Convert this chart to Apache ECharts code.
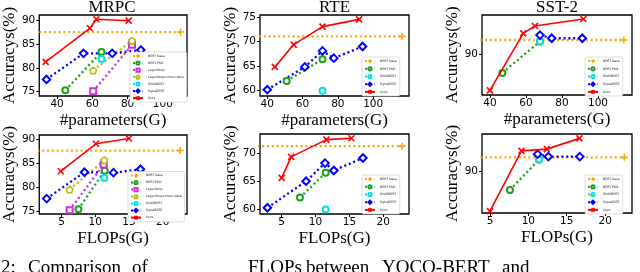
<!DOCTYPE html>
<html>
<head>
<meta charset="utf-8">
<script src="https://cdn.jsdelivr.net/npm/echarts@6/dist/echarts.min.js"></script>
<style>
html,body{margin:0;padding:0;background:#fff;}
#c{width:640px;height:272px;}
</style>
</head>
<body>
<div id="c"></div>
<script>
// ---------- data ----------
const seriesNames = ['BERT base','BERT-PKD','LayerDrop','LayerDrop+more data','DistilBERT','DynaBERT','Ours'];
const datasetTitles = ['MRPC','RTE','SST-2'];
const xNames = ['#parameters(G)','FLOPs(G)'];
const yName = 'Accuracys(%)';

const paramTicks = [40,60,80,100];
const flopTicks = [5,10,15,20];
const mrpcYTicks = [75,80,85,90];
const rteParamYTicks = [60,65,70,75];
const rteFlopYTicks = [60,65,70];
const sstYTicks = [90];

// MRPC, #parameters
const mrpcParamBase   = [[0,87.6],[110,87.6]];
const mrpcParamPkd    = [[44.7,75.3],[65.2,83.4]];
const mrpcParamLd     = [[60.5,75.1],[82.5,84.9]];
const mrpcParamLdPlus = [[60.5,79.5],[82.5,85.8]];
const mrpcParamDistil = [[65.2,81.9]];
const mrpcParamDyna   = [[34,77.6],[55,83.1],[71.3,83.1],[87.5,83.8]];
const mrpcParamOurs   = [[33.5,81.3],[58.6,88.4],[62.3,90.3],[80.6,90.0]];
// MRPC, FLOPs
const mrpcFlopBase   = [[0,87.6],[22.6,87.6]];
const mrpcFlopPkd    = [[7.5,75.4],[11.4,83.4]];
const mrpcFlopLd     = [[6.2,75.2],[11.25,84.7]];
const mrpcFlopLdPlus = [[6.2,79.5],[11.35,85.6]];
const mrpcFlopDistil = [[11.35,81.9]];
const mrpcFlopDyna   = [[2.8,77.6],[8.4,83.1],[12.7,83.0],[16.7,83.7]];
const mrpcFlopOurs   = [[4.9,83.3],[10.1,89.0],[15.0,90.1]];
// RTE, #parameters
const rteParamBase   = [[0,71.1],[116.4,71.1]];
const rteParamPkd    = [[51,61.9],[71.3,66.4]];
const rteParamDistil = [[71.3,59.9]];
const rteParamDyna   = [[40,60.1],[61.3,64.8],[71.3,68.1],[77.7,66.6],[94,69.0]];
const rteParamOurs   = [[44.3,64.8],[55,69.4],[71.3,73.1],[92,74.6]];
// RTE, FLOPs
const rteFlopBase   = [[0,71.2],[22.8,71.2]];
const rteFlopPkd    = [[7.7,62.1],[11.5,66.5]];
const rteFlopDistil = [[11.5,60.0]];
const rteFlopDyna   = [[2.9,60.3],[8.6,65.0],[11.4,68.2],[12.7,66.9],[17.0,69.1]];
const rteFlopOurs   = [[5,65.6],[6.4,69.3],[11.6,72.35],[15.3,72.6]];
// SST-2, #parameters
const sstParamBase   = [[0,92.0],[114.4,92.0]];
const sstParamPkd    = [[46.9,87.3],[67.8,91.8]];
const sstParamDistil = [[67.8,91.8]];
const sstParamDyna   = [[67.8,92.7],[74.3,92.25],[91.3,92.25]];
const sstParamOurs   = [[40,84.8],[58.5,92.95],[65,94.0],[91.9,95.0]];
// SST-2, FLOPs
const sstFlopBase   = [[0,92.0],[22.5,92.0]];
const sstFlopPkd    = [[7.6,87.45],[11.4,91.7]];
const sstFlopDistil = [[11.4,91.7]];
const sstFlopDyna   = [[11.2,92.45],[12.6,92.1],[16.7,92.1]];
const sstFlopOurs   = [[5,84.5],[9.1,92.9],[12.4,93.15],[16.65,94.65]];

const captionWords = ['2:', 'Comparison', 'of', 'FLOPs', 'between', 'YOCO-BERT', 'and'];

// ---------- styles ----------
const S = {
  'BERT base': {color:'#ffa500', symbol:'path://M5,0L5,10M0,5L10,5', size:7, dotted:true, fill:'#ffa500'},
  'BERT-PKD': {color:'#1e9e1e', symbol:'emptyCircle', size:6, dotted:true},
  'LayerDrop': {color:'#d030d0', symbol:'emptyRect', size:6, dotted:true},
  'LayerDrop+more data': {color:'#bcbc10', symbol:'path://M5,0L10,3.8L8.1,10L1.9,10L0,3.8Z', size:6.5, dotted:true, fill:'#fff'},
  'DistilBERT': {color:'#00e0e0', symbol:'emptyCircle', size:6, dotted:true},
  'DynaBERT': {color:'#0000ff', symbol:'emptyDiamond', size:7.5, dotted:true},
  'Ours': {color:'#ff0000', symbol:'path://M0,0L10,10M10,0L0,10', size:6, dotted:false, fill:'#ff0000'}
};

const panels = [
  {grid:{left:37,top:15,width:150,height:81}, x:[29.9,113.7], y:[74.1,91.2], xt:paramTicks, yt:mrpcYTicks, xn:0,
   legend:{left:130,top:52}, rowGap:1.8,
   data:{'BERT base':mrpcParamBase,'BERT-PKD':mrpcParamPkd,'LayerDrop':mrpcParamLd,'LayerDrop+more data':mrpcParamLdPlus,'DistilBERT':mrpcParamDistil,'DynaBERT':mrpcParamDyna,'Ours':mrpcParamOurs}},
  {grid:{left:260,top:15,width:149,height:81}, x:[35.9,120.3], y:[58.8,75.5], xt:paramTicks, yt:rteParamYTicks, xn:0,
   legend:{left:362,top:57}, rowGap:2.5,
   data:{'BERT base':rteParamBase,'BERT-PKD':rteParamPkd,'DistilBERT':rteParamDistil,'DynaBERT':rteParamDyna,'Ours':rteParamOurs}},
  {grid:{left:482,top:15,width:150,height:80}, x:[35.6,118.9], y:[84.14,95.57], xt:paramTicks, yt:sstYTicks, xn:0,
   legend:{left:585,top:57}, rowGap:2.5,
   data:{'BERT base':sstParamBase,'BERT-PKD':sstParamPkd,'DistilBERT':sstParamDistil,'DynaBERT':sstParamDyna,'Ours':sstParamOurs}},
  {grid:{left:37,top:135,width:150,height:79}, x:[1.7,23.6], y:[74.4,90.83], xt:flopTicks, yt:mrpcYTicks, xn:1,
   legend:{left:128,top:171.5}, rowGap:1.8,
   data:{'BERT base':mrpcFlopBase,'BERT-PKD':mrpcFlopPkd,'LayerDrop':mrpcFlopLd,'LayerDrop+more data':mrpcFlopLdPlus,'DistilBERT':mrpcFlopDistil,'DynaBERT':mrpcFlopDyna,'Ours':mrpcFlopOurs}},
  {grid:{left:260,top:134,width:149,height:80}, x:[1.8,23.8], y:[59.2,73.35], xt:flopTicks, yt:rteFlopYTicks, xn:1,
   legend:{left:362,top:175}, rowGap:2.5,
   data:{'BERT base':rteFlopBase,'BERT-PKD':rteFlopPkd,'DistilBERT':rteFlopDistil,'DynaBERT':rteFlopDyna,'Ours':rteFlopOurs}},
  {grid:{left:482,top:134,width:150,height:79}, x:[3.96,23.5], y:[84.24,95.26], xt:flopTicks, yt:sstYTicks, xn:1,
   legend:{left:585,top:175}, rowGap:2.5,
   data:{'BERT base':sstFlopBase,'BERT-PKD':sstFlopPkd,'DistilBERT':sstFlopDistil,'DynaBERT':sstFlopDyna,'Ours':sstFlopOurs}}
];

const serif = 'Liberation Serif';
const grids = [], xAxes = [], yAxes = [], series = [], legends = [];

panels.forEach((p, i) => {
  grids.push(Object.assign({show:true, borderColor:'#000', borderWidth:1.3, backgroundColor:'transparent', containLabel:false}, p.grid));
  xAxes.push({
    type:'value', gridIndex:i, min:p.x[0], max:p.x[1],
    name:xNames[p.xn], nameLocation:'middle', nameGap:16,
    nameTextStyle:{fontFamily:serif, fontSize:17, color:'#000'},
    axisLine:{show:false}, splitLine:{show:false},
    axisTick:{show:true, inside:false, length:3, customValues:p.xt, lineStyle:{color:'#000', width:1}},
    axisLabel:{customValues:p.xt, fontFamily:'DejaVu Sans', fontSize:10.5, color:'#000', margin:3}
  });
  yAxes.push({
    type:'value', gridIndex:i, min:p.y[0], max:p.y[1],
    name:yName, nameLocation:'middle', nameGap:21, nameRotate:90,
    nameTextStyle:{fontFamily:serif, fontSize:17, color:'#000'},
    axisLine:{show:false}, splitLine:{show:false},
    axisTick:{show:true, inside:false, length:3, customValues:p.yt, lineStyle:{color:'#000', width:1}},
    axisLabel:{customValues:p.yt, fontFamily:'DejaVu Sans', fontSize:10.5, color:'#000', margin:4}
  });
  const names = seriesNames.filter(n => p.data[n]);
  names.forEach(n => {
    const s = S[n];
    series.push({
      type:'line', name:n, xAxisIndex:i, yAxisIndex:i, data:p.data[n],
      color:s.color, clip:true,
      symbol:s.symbol, symbolSize:s.size, showSymbol:true,
      itemStyle:{color: s.fill || s.color, borderColor:s.color, borderWidth:1.6},
      lineStyle:{color:s.color, width:s.dotted?2.3:1.6, type:s.dotted?[2,2.8]:'solid'},
      emphasis:{disabled:true}, z: n==='Ours'?5:3
    });
  });
  legends.push({
    orient:'vertical', left:p.legend.left, top:p.legend.top, data:names,
    itemWidth:10, itemHeight:4, itemGap:p.rowGap, padding:[1.5,3,1.5,2],
    selectedMode:false, backgroundColor:'#fff', borderColor:'#c8c8c8', borderWidth:0.6, borderRadius:1.5,
    textStyle:{fontSize:3.2, lineHeight:4, color:'#222', fontFamily:'DejaVu Sans'}
  });
});

const titleCenters = [112, 334.5, 557];
const titles = datasetTitles.map((t, i) => ({
  text:t, left:titleCenters[i], top:-1, textAlign:'center', padding:0,
  textStyle:{fontFamily:serif, fontSize:17, fontWeight:'normal', color:'#000'}
}));

const captionX = [1, 28, 132, 248, 306, 382, 502];
const graphic = captionWords.map((w, i) => ({
  type:'text', x:captionX[i], y:259, silent:true,
  style:{text:w, fontFamily:serif, fontSize:19, fill:'#000', verticalAlign:'top'}
}));

const chart = echarts.init(document.getElementById('c'), null, {renderer:'canvas'});
chart.setOption({
  animation:false,
  title:titles,
  grid:grids, xAxis:xAxes, yAxis:yAxes, series:series, legend:legends,
  graphic:graphic
});
</script>
</body>
</html>
